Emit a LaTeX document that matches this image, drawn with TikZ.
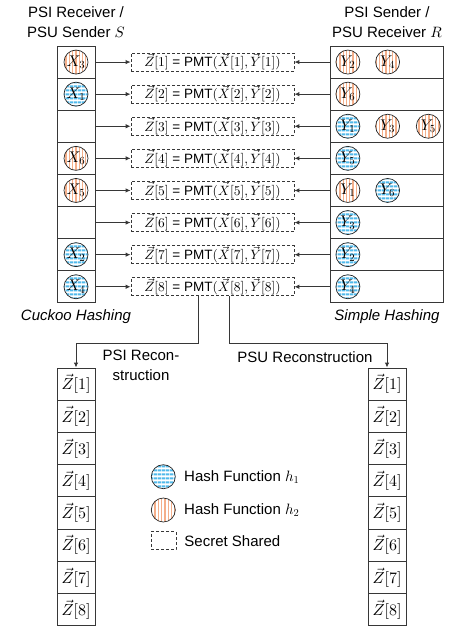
\documentclass[tikz,border=0pt]{standalone}
\usepackage{fontspec}
\setmainfont{Liberation Sans}
\usepackage{amsmath}
\DeclareFontShape{OML}{cmm}{m}{it}{<->cmmi10}{}
\DeclareFontShape{OT1}{cmr}{m}{n}{<->cmr10}{}
\DeclareFontShape{OMS}{cmsy}{m}{n}{<->cmsy10}{}
\usepackage{tikz}
\usetikzlibrary{arrows.meta, positioning, calc, patterns.meta}
\definecolor{hblue}{RGB}{80,185,235}
\definecolor{horange}{RGB}{244,175,138}
\definecolor{linegray}{RGB}{55,55,55}

\begin{document}
\begin{tikzpicture}[x=1pt, y=-1pt,
		every node/.style={font=\fontsize{15}{20}\selectfont},
		cell/.style={draw=linegray, line width=0.9pt, minimum height=32.1pt, inner sep=0pt},
		zcell/.style={cell, minimum width=38pt, minimum height=32.2pt, font=\fontsize{16}{18}\selectfont},
		shared/.style={draw=linegray, line width=0.8pt, dash pattern=on 3pt off 2pt, minimum width=163pt, minimum height=18pt, inner sep=0pt, font=\fontsize{13.5}{16}\selectfont},
		hball/.style={circle, draw=black!85, line width=0.7pt, minimum size=24pt, inner sep=0pt, preaction={fill=white}, font=\fontsize{15.5}{15}\selectfont},
		hOne/.style={hball, pattern={Lines[angle=0, distance=4pt, line width=2.6pt]}, pattern color=hblue},
		hTwo/.style={hball, pattern={Lines[angle=90, distance=3.3pt, line width=1.3pt]}, pattern color=horange},
		conn/.style={-{Latex[length=5pt, width=4.5pt]}, line width=0.9pt, linegray}]
	\useasboundingbox (0,0) rectangle (448,626);

	\node[align=center] (sLabel) at (76,21.7) {PSI Receiver /\\PSU Sender $S$};
	\node[align=center] (rLabel) at (387,21.7) {PSI Sender /\\PSU Receiver $R$};

	\foreach \i in {1,...,8} {
		\node[cell, minimum width=38pt] (s\i) at (76,{46+32.1*(\i-0.5)}) {};
		\node[cell, minimum width=113pt] (r\i) at (386.5,{46+32.1*(\i-0.5)}) {};
		\node[shared] (z\i) at (212.5,{46+32.1*(\i-0.5)}) {$\vec{Z}[\i]$ = PMT$(\vec{X}[\i],\vec{Y}[\i])$};
		\draw[conn] (s\i.east) -- (z\i.west);
		\draw[conn] (r\i.west) -- (z\i.east);
	}

	\node[hTwo] (x3) at (s1) {$X_3$};
	\node[hOne] (x1) at (s2) {$X_1$};
	\node[hTwo] (x6) at (s4) {$X_6$};
	\node[hTwo] (x5) at (s5) {$X_5$};
	\node[hOne] (x2) at (s7) {$X_2$};
	\node[hOne] (x4) at (s8) {$X_4$};

	\node[hTwo, right=6pt of r1.west] (c1a) {$Y_2$};
	\node[hTwo, right=15pt of c1a] (c1b) {$Y_4$};
	\node[hTwo, right=6pt of r2.west] (c2a) {$Y_6$};
	\node[hOne, right=6pt of r3.west] (c3a) {$Y_1$};
	\node[hTwo, right=15pt of c3a] (c3b) {$Y_3$};
	\node[hTwo, right=16pt of c3b] (c3c) {$Y_5$};
	\node[hOne, right=6pt of r4.west] (c4a) {$Y_5$};
	\node[hTwo, right=6pt of r5.west] (c5a) {$Y_1$};
	\node[hOne, right=15pt of c5a] (c5b) {$Y_6$};
	\node[hOne, right=6pt of r6.west] (c6a) {$Y_3$};
	\node[hOne, right=6pt of r7.west] (c7a) {$Y_2$};
	\node[hOne, right=6pt of r8.west] (c8a) {$Y_4$};

	\node (cuckoo) at (76,316.7) {\itshape Cuckoo Hashing};
	\node (simple) at (387,316.7) {\itshape Simple Hashing};

	\foreach \i in {1,...,8} {
		\node[zcell] (p\i) at (76,{368+32.2*(\i-0.5)}) {$\vec{Z}[\i]$};
		\node[zcell] (u\i) at (387,{368+32.2*(\i-0.5)}) {$\vec{Z}[\i]$};
	}

	\coordinate (psiTurn) at (198,343);
	\coordinate (psuTurn) at (229,343);
	\draw[conn] (z8.south -| psiTurn) -- (psiTurn) -| (p1.north);
	\draw[conn] (z8.south -| psuTurn) -- (psuTurn) -| (u1.north);
	\node[align=center] (psiRec) at (141,365.3) {PSI Recon-\\struction};
	\node (psuRec) at (305,356.7) {PSU Reconstruction};

	\node[hOne] (legH1) at (163.3,476.7) {};
	\node[hTwo] (legH2) at (163.3,510) {};
	\node[shared, minimum width=25pt] (legSS) at (163.5,540.8) {};
	\node[right=5pt of legH1] (legH1txt) {Hash Function $h_1$};
	\node[right=5pt of legH2] (legH2txt) {Hash Function $h_2$};
	\node[right=4.5pt of legSS, font=\fontsize{15}{20}\selectfont] (legSStxt) {Secret Shared};
\end{tikzpicture}
\end{document}
